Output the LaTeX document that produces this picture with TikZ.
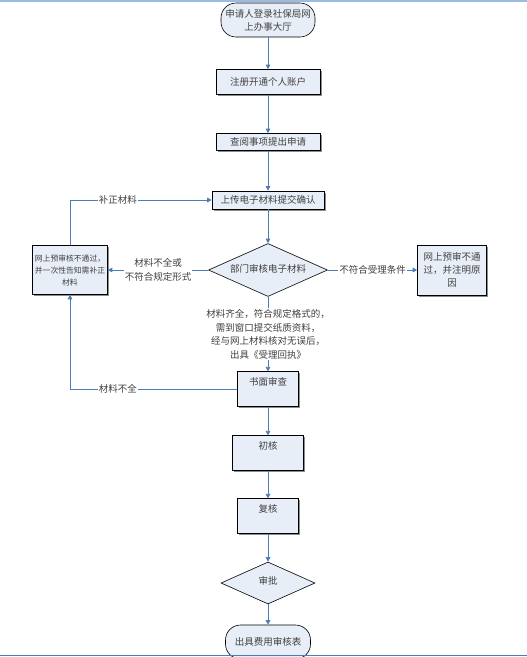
\documentclass[tikz,border=0pt]{standalone}
\usepackage{fontspec}
\newfontfamily\cjk{Noto Sans CJK SC}
\usetikzlibrary{shapes.geometric,arrows.meta,shadows}
\definecolor{flowblue}{HTML}{4A7EBB}
\definecolor{boxfill}{HTML}{E8EEF7}
\definecolor{txtgray}{HTML}{404040}
\tikzset{
  base/.style={font=\cjk\fontsize{9.5}{13}\selectfont, text=txtgray, draw=black,
    fill=boxfill, inner sep=0pt, align=center},
  stepbox/.style={base, rectangle, semithick,
    drop shadow={shadow xshift=1.5pt, shadow yshift=-1.5pt, fill=black!45, opacity=1}},
  topbox/.style={stepbox, text height=13.5pt, text depth=21pt},
  term/.style={base, rectangle, rounded corners=15pt, semithick},
  check/.style={base, diamond, aspect=2.2, semithick},
  flow/.style={draw=flowblue, line width=0.7pt, -{Triangle[length=4.5pt,width=4.5pt]}},
  lbl/.style={font=\cjk\fontsize{9.5}{13.5}\selectfont, text=txtgray, fill=white,
    inner sep=1pt, align=center}
}
\begin{document}
\begin{tikzpicture}[x=1pt, y=-1pt]
\useasboundingbox (0,0) rectangle (527,657);
\draw[color={rgb,255:red,155;green,187;blue,227}, line width=2pt] (0,1) -- (527,1);%top edge

% main chain
\node[term, minimum width=94pt, minimum height=34pt] (start) at (268,20) {申请人登录社保局网\\上办事大厅};
\node[stepbox, minimum width=104pt, minimum height=25pt] (reg) at (268,82) {注册开通个人账户};
\node[stepbox, minimum width=104pt, minimum height=17pt] (apply) at (268,142) {查阅事项提出申请};
\node[stepbox, minimum width=112pt, minimum height=18pt] (upload) at (268,200) {上传电子材料提交确认};
\node[check, minimum width=119pt, minimum height=53pt] (review) at (268,270) {\raisebox{4pt}{部门审核电子材料}};

% side boxes
\node[stepbox, font=\cjk\fontsize{7.8}{12}\selectfont, minimum width=75pt, minimum height=49pt] (fixbox) at (70,270) {网上预审核不通过，\\并一次性告知需补正\\材料};
\node[stepbox, minimum width=69pt, minimum height=50pt] (reject) at (452,270) {网上预审不通\\过，并注明原\\因};

\node[topbox, minimum width=61pt] (paper) at (268,389) {书面审查};
\node[topbox, minimum width=71pt] (first) at (268,453) {初核};
\node[topbox, minimum width=61pt] (second) at (268,516) {复核};
\node[check, minimum width=94pt, minimum height=42pt] (approve) at (268,583) {\raisebox{5pt}{审批}};
\node[term, minimum width=85pt, minimum height=34pt] (finish) at (268,642) {出具费用审核表};

% connectors
\draw[flow] (start) -- (reg);
\draw[flow] (reg) -- (apply);
\draw[flow] (apply) -- (upload);
\draw[flow] (upload) -- (review);
\draw[flow] (review) -- node[lbl] {材料不全或\\不符合规定形式} (fixbox);
\draw[flow] (review) -- node[lbl] {不符合受理条件} (reject);
\draw[flow] (fixbox) |- node[lbl, pos=0.669] {补正材料} (upload);
\draw[flow] (review) -- node[lbl] {材料齐全，符合规定格式的，\\需到窗口提交纸质资料，\\经与网上材料核对无误后，\\出具《受理回执》} (paper);
\draw[flow] (paper) -| node[lbl, pos=0.357] {材料不全} (fixbox);
\draw[flow] (paper) -- (first);
\draw[flow] (first) -- (second);
\draw[flow] (second) -- (approve);
\draw[flow] (approve) -- (finish);

\draw[flowblue, line width=1pt] (0,655.5) -- (527,655.5);%bottom edge
\end{tikzpicture}
\end{document}
